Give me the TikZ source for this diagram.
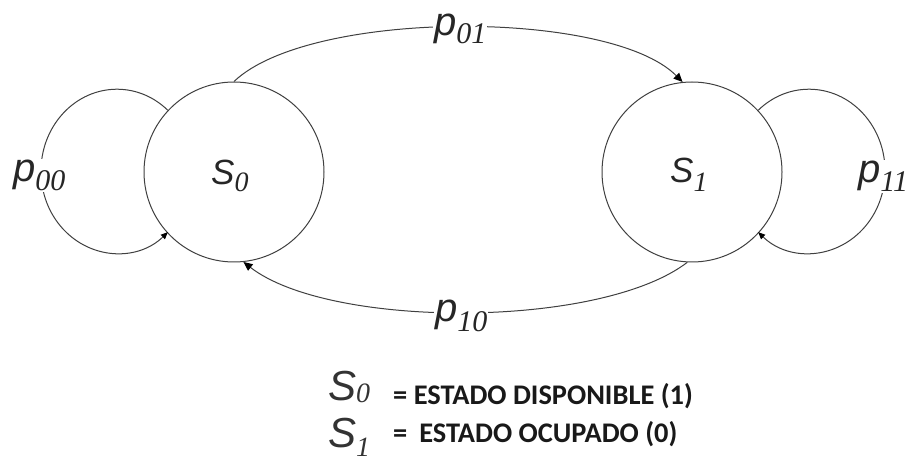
\documentclass[tikz,border=0pt]{standalone}
\usepackage{fontspec}
\setmainfont{Liberation Sans}
\newfontfamily\subf{Liberation Serif}
\newfontfamily\calib{Carlito}
\usetikzlibrary{arrows.meta}
\newcommand{\plab}[3]{{\fontsize{40}{40}\selectfont\itshape #1}\raisebox{#3}{\subf\itshape\fontsize{30}{30}\selectfont #2}}
\newcommand{\slab}[4]{{\fontsize{#4}{#4}\selectfont\itshape #1}\raisebox{#3}{\subf\itshape\fontsize{28}{28}\selectfont #2}}
\begin{document}
\begin{tikzpicture}[x=1pt,y=1pt,
  state/.style={circle, draw=black!75, fill=white, line width=1pt, minimum size=180pt, inner sep=0pt},
  conn/.style={draw=black!75, line width=1pt, -{Triangle[length=9pt,width=8pt,color=black]}},
  loopc/.style={draw=black!75, line width=1pt, -{Triangle[length=7pt,width=6pt,color=black]}},
  plabel/.style={anchor=base west, fill=white, inner sep=1pt, text=black!85},
  leg/.style={anchor=base west, inner sep=0pt, text=black!90, font=\calib\bfseries\fontsize{28.4}{28.4}\selectfont}]
\useasboundingbox (0,0) rectangle (915,463);
\fill[white] (0,0) rectangle (915,463);
% states
\node[state] (s0) at (234,291) {};
\node[state] (s1) at (692,291) {};
% self loops
\draw[loopc] (s0.137) arc[start angle=48, end angle=312, x radius=76pt, y radius=82pt];
\draw[loopc] (s1.43) arc[start angle=132, end angle=-132, x radius=76pt, y radius=82pt];
% transitions
\draw[conn] (s0.90) .. controls (310,454) and (610,454) .. (s1.96);
\draw[conn] (s1.-93) .. controls (600,134) and (330,134) .. (s0.-84);
% labels
\node[plabel] (l00) at (12,281) {\plab{p}{00}{-9pt}};
\node[plabel] (l01) at (433,427) {\plab{p}{01}{-8pt}};
\node[plabel] (l10) at (434,141) {\plab{p}{10}{-10pt}};
\node[plabel] (l11) at (857,280) {\plab{p}{11}{-9pt}};
\node[anchor=base west, inner sep=0pt, text=black!85] (t0) at (211,278) {\slab{S}{0}{-7pt}{35}};
\node[anchor=base west, inner sep=0pt, text=black!85] (t1) at (670,280) {\slab{S}{1}{-9pt}{35}};
% legend
\node[anchor=base west, inner sep=0pt, text=black!80] (g0) at (328,63) {\slab{S}{0}{-2pt}{42}};
\node[anchor=base west, inner sep=0pt, text=black!80] (g1) at (328,16) {\slab{S}{1}{-9pt}{42}};
\node[leg] (e0) at (393,58) {= ESTADO DISPONIBLE (1)};
\node[leg] (e1) at (393,20) {=\hspace{12pt}ESTADO OCUPADO (0)};
\end{tikzpicture}
\end{document}
